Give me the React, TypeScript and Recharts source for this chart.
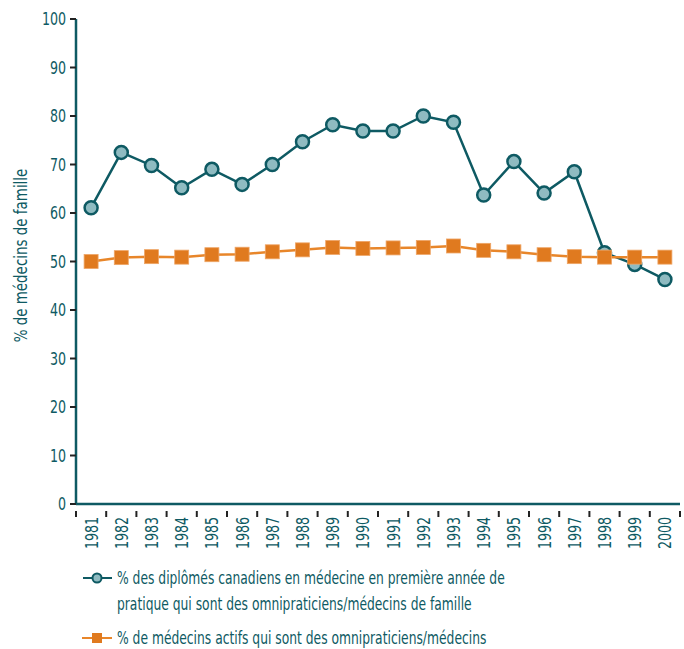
import React from 'react';
import { LineChart, Line, XAxis, YAxis } from 'recharts';

const years = [
  '1981', '1982', '1983', '1984', '1985', '1986', '1987', '1988', '1989', '1990',
  '1991', '1992', '1993', '1994', '1995', '1996', '1997', '1998', '1999', '2000',
];
const newGraduates = [
  61.1, 72.5, 69.8, 65.2, 69.0, 65.9, 70.0, 74.7, 78.2, 76.9,
  76.9, 80.0, 78.7, 63.7, 70.6, 64.1, 68.5, 51.8, 49.4, 46.3,
];
const activePhysicians = [
  50.0, 50.8, 51.0, 50.9, 51.4, 51.5, 52.0, 52.4, 52.9, 52.7,
  52.8, 52.9, 53.2, 52.3, 52.0, 51.4, 51.0, 50.9, 50.9, 50.9,
];
const yTicks = [0, 10, 20, 30, 40, 50, 60, 70, 80, 90, 100];

const TEAL = '#0e5a63';
const TEAL_FILL = '#8fbbc1';
const ORANGE = '#e07a1f';
const FONT = "'DejaVu Sans Condensed', 'Liberation Sans Narrow', sans-serif";
const FONT_SIZE = 18;
const SQUEEZE = 0.78; // the original uses a condensed face, narrow the text to match

const WIDTH = 684;
const HEIGHT = 560;
const MARGIN = { top: 19, right: 4, left: 0, bottom: 0 };
const Y_AXIS_W = 76;
const PLOT_W = WIDTH - MARGIN.left - MARGIN.right - Y_AXIS_W;
const HALF_STEP = PLOT_W / years.length / 2;

const data = years.map((year, i) => ({
  year,
  grads: newGraduates[i],
  active: activePhysicians[i],
}));

const YearTick = ({ x, y, payload, index }: any) => {
  const isLast = index === years.length - 1;
  return (
    <g>
      <line x1={x - HALF_STEP} x2={x - HALF_STEP} y1={y - 1} y2={y + 5} stroke="#222" strokeWidth={2} />
      {isLast && (
        <line x1={x + HALF_STEP} x2={x + HALF_STEP} y1={y - 1} y2={y + 5} stroke="#222" strokeWidth={2} />
      )}
      <text
        transform={`translate(${x},${y + 5}) rotate(-90) scale(${SQUEEZE},1)`}
        textAnchor="end"
        dy="0.36em"
        fill={TEAL}
        fontSize={FONT_SIZE}
        fontFamily={FONT}
      >
        {payload.value}
      </text>
    </g>
  );
};

const ValueTick = ({ x, y, payload }: any) => (
  <text
    transform={`translate(${x},${y}) scale(${SQUEEZE},1)`}
    textAnchor="end"
    dy="0.36em"
    fill={TEAL}
    fontSize={FONT_SIZE}
    fontFamily={FONT}
  >
    {payload.value}
  </text>
);

const YLabel = ({ viewBox }: any) => {
  const cy = viewBox.y + viewBox.height / 2 - 6;
  return (
    <text
      transform={`translate(21,${cy}) rotate(-90) scale(0.83,1)`}
      textAnchor="middle"
      dy="0.36em"
      fill={TEAL}
      fontSize={FONT_SIZE}
      fontFamily={FONT}
    >
      % de médecins de famille
    </text>
  );
};

const SquareDot = ({ cx, cy }: any) => (
  <rect x={cx - 7} y={cy - 7} width={14} height={14} fill={ORANGE} stroke="#eea566" strokeWidth={0.8} />
);

const legendText: React.CSSProperties = {
  marginLeft: 3,
  transform: `scaleX(0.76)`,
  transformOrigin: 'left center',
  whiteSpace: 'nowrap',
};

export default function App() {
  return (
    <div style={{ position: 'absolute', left: 0, top: 0, width: WIDTH, height: 649, background: '#fff', fontFamily: FONT }}>
      <LineChart width={WIDTH} height={HEIGHT} data={data} margin={MARGIN}>
        <XAxis
          dataKey="year"
          padding={{ left: HALF_STEP, right: HALF_STEP }}
          axisLine={{ stroke: TEAL, strokeWidth: 2.5 }}
          tickLine={false}
          tick={<YearTick />}
          interval={0}
          height={56}
        />
        <YAxis
          type="number"
          domain={[0, 100]}
          ticks={yTicks}
          width={Y_AXIS_W}
          axisLine={{ stroke: TEAL, strokeWidth: 2.5 }}
          tickLine={{ stroke: '#222', strokeWidth: 2 }}
          tickSize={6}
          tickMargin={4}
          tick={<ValueTick />}
          label={<YLabel />}
        />
        <Line
          dataKey="grads"
          stroke={TEAL}
          strokeWidth={2.5}
          dot={{ r: 6.5, fill: TEAL_FILL, stroke: TEAL, strokeWidth: 2.5 }}
          isAnimationActive={false}
        />
        <Line
          dataKey="active"
          stroke="#e8862a"
          strokeWidth={2.5}
          dot={<SquareDot />}
          isAnimationActive={false}
        />
      </LineChart>

      <div style={{ position: 'absolute', left: 82, top: 565, color: TEAL, fontSize: FONT_SIZE, lineHeight: '26px' }}>
        <div style={{ display: 'flex', alignItems: 'flex-start' }}>
          <svg width={32} height={26} style={{ flexShrink: 0 }}>
            <line x1={1} x2={30} y1={13} y2={13} stroke={TEAL} strokeWidth={2} />
            <circle cx={15} cy={13} r={4.5} fill={TEAL_FILL} stroke={TEAL} strokeWidth={2} />
          </svg>
          <div style={legendText}>
            % des diplômés canadiens en médecine en première année de
            <br />
            pratique qui sont des omnipraticiens/médecins de famille
          </div>
        </div>
        <div style={{ display: 'flex', alignItems: 'flex-start', marginTop: 8 }}>
          <svg width={32} height={26} style={{ flexShrink: 0 }}>
            <line x1={0} x2={30} y1={13} y2={13} stroke="#e8862a" strokeWidth={2} />
            <rect x={10} y={8} width={10} height={10} fill={ORANGE} />
          </svg>
          <div style={legendText}>% de médecins actifs qui sont des omnipraticiens/médecins</div>
        </div>
      </div>
    </div>
  );
}
